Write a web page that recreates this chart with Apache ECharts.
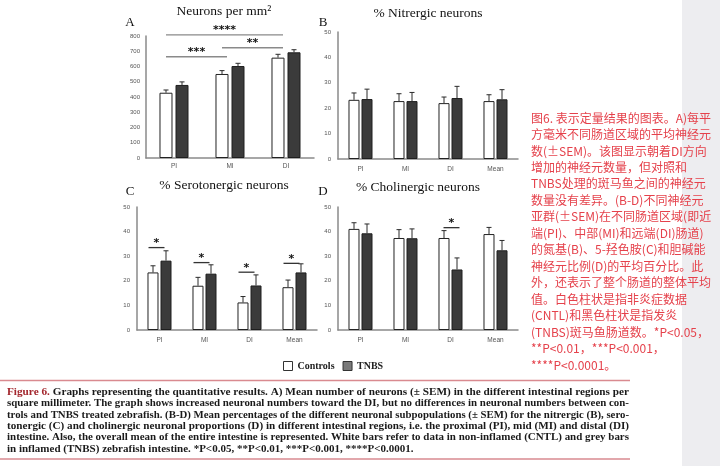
<!DOCTYPE html>
<html><head><meta charset="utf-8">
<script src="https://cdn.jsdelivr.net/npm/echarts@6/dist/echarts.min.js"></script>
<style>html,body{margin:0;padding:0;background:#fff}#c{width:720px;height:466px}</style>
</head><body><div id="c"></div>
<script>
// ---------- DATA ----------
const catsA = ['PI', 'MI', 'DI'];
const catsBCD = ['PI', 'MI', 'DI', 'Mean'];
const seriesNames = ['Controls', 'TNBS'];

const aCtrl = [428, 551, 658];
const aCtrlErr = [18, 22, 22];
const aTnbs = [479, 603, 693];
const aTnbsErr = [20, 18, 17];

const bCtrl = [23.3, 22.8, 22.0, 22.8];
const bCtrlErr = [2.7, 2.9, 2.4, 2.5];
const bTnbs = [23.6, 22.8, 24.0, 23.5];
const bTnbsErr = [3.9, 3.4, 4.6, 3.8];

const cCtrl = [23.4, 18.0, 11.2, 17.4];
const cCtrlErr = [2.7, 3.4, 2.4, 2.9];
const cTnbs = [28.2, 22.9, 18.1, 23.4];
const cTnbsErr = [4.0, 3.6, 4.3, 3.5];

const dCtrl = [41.1, 37.4, 37.4, 39.0];
const dCtrlErr = [2.5, 3.4, 3.0, 2.7];
const dTnbs = [39.3, 37.3, 24.6, 32.4];
const dTnbsErr = [3.8, 3.8, 4.7, 4.0];

// significance brackets: [fromCategory, toCategory, level]
const aSig = [[0, 2, 807], [0, 1, 664], [1, 2, 723]];
const aSigLabels = ['****', '***', '**'];
const cSig = [[0, 0, 33.5], [1, 1, 27.4], [2, 2, 23.5], [3, 3, 27.1]];
const cSigLabels = ['*', '*', '*', '*'];
const dSig = [[2, 2, 41.6]];
const dSigLabels = ['*'];

const panelTitles = ['Neurons per mm²', '% Nitrergic neurons', '% Serotonergic neurons', '% Cholinergic neurons'];
const panelLetters = ['A', 'B', 'C', 'D'];

const captionLines = [
  'Graphs representing the quantitative results. A) Mean number of neurons (± SEM) in the different intestinal regions per',
  'square millimeter. The graph shows increased neuronal numbers toward the DI, but no differences in neuronal numbers between con-',
  'trols and TNBS treated zebrafish. (B-D) Mean percentages of the different neuronal subpopulations (± SEM) for the nitrergic (B), sero-',
  'tonergic (C) and cholinergic neuronal proportions (D) in different intestinal regions, i.e. the proximal (PI), mid (MI) and distal (DI)',
  'intestine. Also, the overall mean of the entire intestine is represented. White bars refer to data in non-inflamed (CNTL) and grey bars',
  'in inflamed (TNBS) zebrafish intestine. *P<0.05, **P<0.01, ***P<0.001, ****P<0.0001.'
];
const captionLead = 'Figure 6.';

const zhLines = [
  '图6. 表示定量结果的图表。A)每平',
  '方毫米不同肠道区域的平均神经元',
  '数(±SEM)。该图显示朝着DI方向',
  '增加的神经元数量，但对照和',
  'TNBS处理的斑马鱼之间的神经元',
  '数量没有差异。(B-D)不同神经元',
  '亚群(±SEM)在不同肠道区域(即近',
  '端(PI)、中部(MI)和远端(DI)肠道)',
  '的氮基(B)、5-羟色胺(C)和胆碱能',
  '神经元比例(D)的平均百分比。此',
  '外，还表示了整个肠道的整体平均',
  '值。白色柱状是指非炎症数据',
  '(CNTL)和黑色柱状是指发炎',
  '(TNBS)斑马鱼肠道数。*P<0.05，',
  '**P<0.01，***P<0.001，',
  '****P<0.0001。'
];

// ---------- RENDER ----------
const chart = echarts.init(document.getElementById('c'), null, {renderer: 'canvas'});

const AXIS_COLOR = '#8a8a8a';
const LABEL_COLOR = '#555';
const CTRL_STYLE = {color: '#ffffff', borderColor: '#222', borderWidth: 1};
const TNBS_STYLE = {color: '#3b3b3b', borderColor: '#1e1e1e', borderWidth: 1};

const grids = [
  {left: 146, top: 36, width: 168, height: 122},
  {left: 338, top: 32, width: 180, height: 127},
  {left: 137, top: 207, width: 180, height: 123},
  {left: 338, top: 207, width: 180, height: 123}
];
const cats = [catsA, catsBCD, catsBCD, catsBCD];
const yMax = [800, 50, 50, 50];
const yInt = [100, 10, 10, 10];
const ctrl = [aCtrl, bCtrl, cCtrl, dCtrl];
const ctrlErr = [aCtrlErr, bCtrlErr, cCtrlErr, dCtrlErr];
const tnbs = [aTnbs, bTnbs, cTnbs, dTnbs];
const tnbsErr = [aTnbsErr, bTnbsErr, cTnbsErr, dTnbsErr];
const barW = [13, 11, 11, 11];
const barGapPx = [3, 2, 2, 2];

const xAxes = grids.map((g, i) => ({
  type: 'category', gridIndex: i, data: cats[i],
  axisLine: {lineStyle: {color: AXIS_COLOR, width: 1.5}},
  axisTick: {show: false},
  axisLabel: {color: LABEL_COLOR, fontSize: 6.5, fontFamily: 'Liberation Sans', margin: i === 0 ? 5 : 7}
}));
const yAxes = grids.map((g, i) => ({
  type: 'value', gridIndex: i, min: 0, max: yMax[i], interval: yInt[i],
  axisLine: {show: true, lineStyle: {color: AXIS_COLOR, width: 1.5}},
  axisTick: {show: false},
  splitLine: {show: false},
  axisLabel: {color: LABEL_COLOR, fontSize: 6, fontFamily: 'Liberation Sans', margin: i === 0 ? 6 : 7}
}));

function errRender(offset) {
  return function (params, api) {
    const base = api.coord([api.value(0), api.value(1)]);
    const top = api.coord([api.value(0), api.value(1) + api.value(2)]);
    const cx = base[0] + offset;
    const st = {stroke: '#2a2a2a', lineWidth: 1};
    return {type: 'group', children: [
      {type: 'line', shape: {x1: cx, y1: base[1], x2: cx, y2: top[1]}, style: st},
      {type: 'line', shape: {x1: cx - 2.5, y1: top[1], x2: cx + 2.5, y2: top[1]}, style: st}
    ]};
  };
}
function sigRender(o1, o2, labels, lineColor) {
  return function (params, api) {
    const a = api.coord([api.value(0), api.value(2)]);
    const b = api.coord([api.value(1), api.value(2)]);
    const x1 = a[0] + o1, x2 = b[0] + o2, y = a[1];
    return {type: 'group', children: [
      {type: 'line', shape: {x1: x1, y1: y, x2: x2, y2: y}, style: {stroke: lineColor, lineWidth: 1.3}},
      {type: 'text', x: (x1 + x2) / 2, y: y - 4.5, style: {text: labels[params.dataIndex], fill: '#111',
        fontSize: 11, fontWeight: 'bold', fontFamily: 'DejaVu Sans', align: 'center', verticalAlign: 'middle'}}
    ]};
  };
}

const series = [];
for (let i = 0; i < 4; i++) {
  const gapPct = (barGapPx[i] / barW[i] * 100).toFixed(1) + '%';
  series.push({name: seriesNames[0], type: 'bar', xAxisIndex: i, yAxisIndex: i, data: ctrl[i],
    barWidth: barW[i], barGap: gapPct, itemStyle: CTRL_STYLE, silent: true});
  series.push({name: seriesNames[1], type: 'bar', xAxisIndex: i, yAxisIndex: i, data: tnbs[i],
    barWidth: barW[i], barGap: gapPct, itemStyle: TNBS_STYLE, silent: true});
  const off = barW[i] / 2 + barGapPx[i] / 2;
  series.push({type: 'custom', xAxisIndex: i, yAxisIndex: i, clip: false, silent: true, z: 5,
    encode: {x: 0, y: 1}, renderItem: errRender(-off),
    data: ctrl[i].map((v, k) => [k, v, ctrlErr[i][k]])});
  series.push({type: 'custom', xAxisIndex: i, yAxisIndex: i, clip: false, silent: true, z: 5,
    encode: {x: 0, y: 1}, renderItem: errRender(off),
    data: tnbs[i].map((v, k) => [k, v, tnbsErr[i][k]])});
}
series.push({type: 'custom', xAxisIndex: 0, yAxisIndex: 0, clip: false, silent: true, z: 6,
  encode: {x: 0, y: 2}, renderItem: sigRender(-8, -3, aSigLabels, '#8a8a8a'), data: aSig});
series.push({type: 'custom', xAxisIndex: 2, yAxisIndex: 2, clip: false, silent: true, z: 6,
  encode: {x: 0, y: 2}, renderItem: sigRender(-11, 5, cSigLabels, '#333'), data: cSig});
series.push({type: 'custom', xAxisIndex: 3, yAxisIndex: 3, clip: false, silent: true, z: 6,
  encode: {x: 0, y: 2}, renderItem: sigRender(-7, 9, dSigLabels, '#333'), data: dSig});

// graphics
const graphic = [];
graphic.push({type: 'rect', z: -10, shape: {x: 682, y: 0, width: 38, height: 466}, style: {fill: '#ededf0'}});

const titlePos = [[224, 11], [428, 13], [224, 185], [418, 187]];
const letterPos = [[130, 23], [323, 23], [130, 192], [323, 192]];
for (let i = 0; i < 4; i++) {
  graphic.push({type: 'text', x: titlePos[i][0], y: titlePos[i][1], style: {text: panelTitles[i],
    fontFamily: 'Liberation Serif', fontSize: 13.5, fill: '#111', align: 'center', verticalAlign: 'middle'}});
  graphic.push({type: 'text', x: letterPos[i][0], y: letterPos[i][1], style: {text: panelLetters[i],
    fontFamily: 'Liberation Serif', fontSize: 13, fill: '#111', align: 'center', verticalAlign: 'middle'}});
}

// Chinese red text
zhLines.forEach((t, k) => {
  graphic.push({type: 'text', x: 531, y: 118 + k * 16.47, style: {text: t,
    fontFamily: 'Noto Sans CJK SC', fontSize: 12, fill: '#e5414b', align: 'left', verticalAlign: 'middle'}});
});

// red rules
graphic.push({type: 'line', shape: {x1: 0, y1: 380.5, x2: 630, y2: 380.5}, style: {stroke: '#d98a90', lineWidth: 1.5}});
graphic.push({type: 'line', shape: {x1: 0, y1: 459, x2: 630, y2: 459}, style: {stroke: '#d98a90', lineWidth: 1.5}});

// caption (justified via measured horizontal scale)
const CAP_SIZE = 11;
const capFont = 'bold ' + CAP_SIZE + 'px "Liberation Serif"';
const ctx = document.createElement('canvas').getContext('2d');
ctx.font = capFont;
const capX = 7, capRight = 629;
const scales = [];
captionLines.forEach((t, k) => {
  const full = (k === 0 ? captionLead + ' ' : '') + t;
  const w = ctx.measureText(full).width;
  scales.push((capRight - capX) / w);
});
const avgScale = scales.slice(0, 5).reduce((a, b) => a + b, 0) / 5;
captionLines.forEach((t, k) => {
  const s = k < 5 ? scales[k] : avgScale;
  const y = 392 + k * 11.35;
  const base = {fontFamily: 'Liberation Serif', fontSize: CAP_SIZE, fontWeight: 'bold', align: 'left', verticalAlign: 'middle'};
  if (k === 0) {
    const leadW = ctx.measureText(captionLead + ' ').width;
    graphic.push({type: 'text', x: capX, y: y, scaleX: s, style: Object.assign({text: captionLead, fill: '#a3262d'}, base)});
    graphic.push({type: 'text', x: capX + leadW * s, y: y, scaleX: s, style: Object.assign({text: t, fill: '#1a1a1a'}, base)});
  } else {
    graphic.push({type: 'text', x: capX, y: y, scaleX: s, style: Object.assign({text: t, fill: '#1a1a1a'}, base)});
  }
});

chart.setOption({
  animation: false,
  backgroundColor: '#ffffff',
  grid: grids,
  xAxis: xAxes,
  yAxis: yAxes,
  legend: {
    left: 278, top: 356, itemWidth: 9, itemHeight: 9, itemGap: 8, selectedMode: false,
    data: [
      {name: 'Controls', icon: 'rect', itemStyle: {color: '#ffffff', borderColor: '#333', borderWidth: 1}},
      {name: 'TNBS', icon: 'rect', itemStyle: {color: '#7a7a7a', borderColor: '#333', borderWidth: 1}}
    ],
    textStyle: {fontFamily: 'Liberation Serif', fontSize: 10, fontWeight: 'bold', color: '#222'}
  },
  series: series,
  graphic: graphic
});
</script>
</body></html>
